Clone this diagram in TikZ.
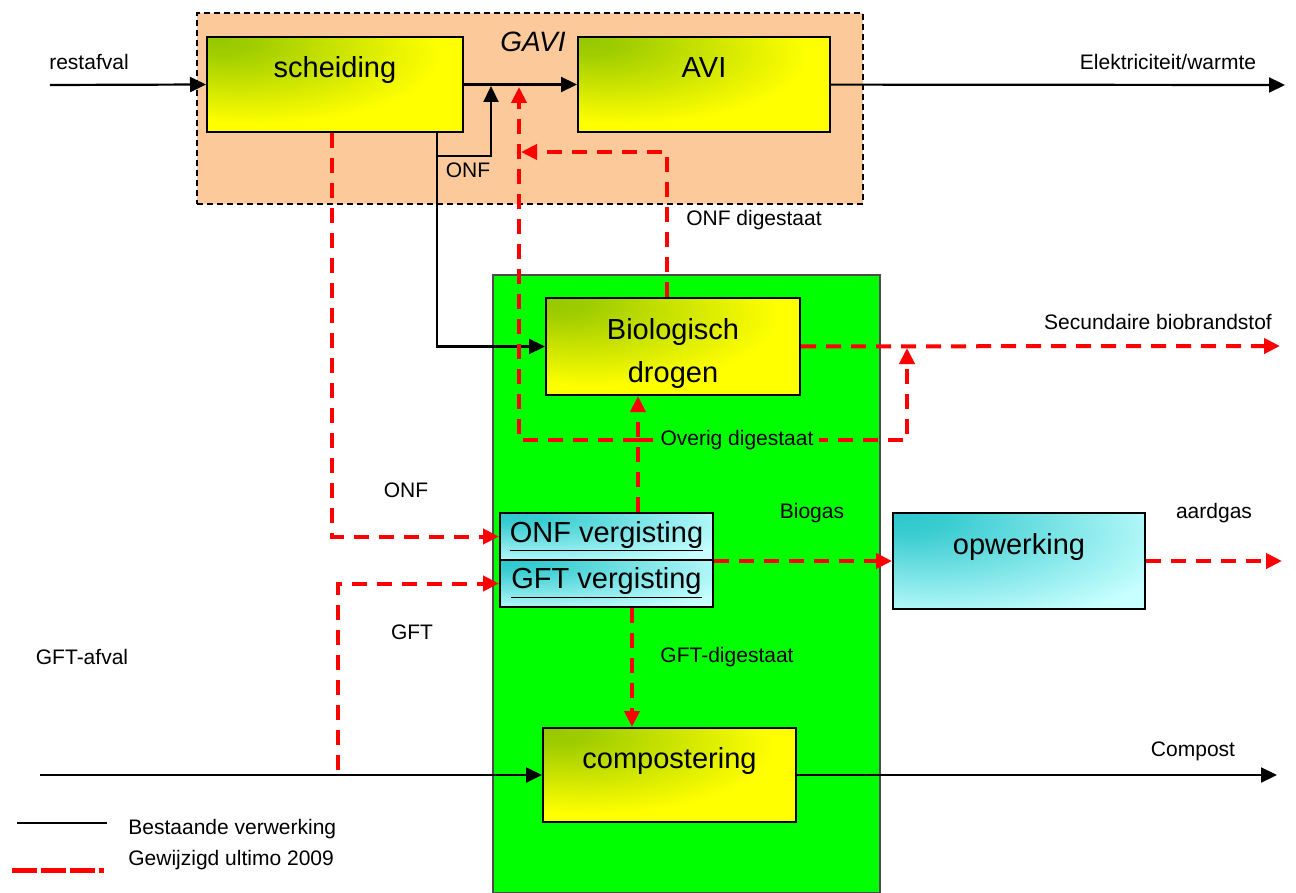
\documentclass[tikz,border=0pt]{standalone}
\usepackage{fontspec}
\setmainfont{Liberation Sans}
\usetikzlibrary{arrows.meta}
\definecolor{gavifill}{RGB}{252,202,154}
\definecolor{zonegreen}{RGB}{0,255,0}
\definecolor{boxgreen}{RGB}{150,200,0}
\definecolor{boxcyan}{RGB}{45,200,205}
\definecolor{palecyan}{RGB}{200,255,255}
\pgfdeclareradialshading{greencorner}{\pgfpoint{-24bp}{24bp}}{color(0bp)=(boxgreen);
  color(6bp)=(boxgreen!92!yellow); color(36bp)=(yellow); color(100bp)=(yellow)}
\pgfdeclareradialshading{cyancorner}{\pgfpoint{-24bp}{24bp}}{color(0bp)=(boxcyan);
  color(8bp)=(boxcyan!92!palecyan); color(46bp)=(palecyan); color(100bp)=(palecyan)}

\begin{document}
\begin{tikzpicture}[x=0.5pt,y=-0.5pt,
  procbox/.style={draw=black, line width=1pt, shading=greencorner, inner sep=0pt,
    font=\fontsize{14.5}{21.5}\selectfont},
  toptext/.style={text height=11pt, text depth=18pt},
  vergbox/.style={draw=black, line width=1pt, shading=cyancorner, inner sep=0pt,
    font=\fontsize{14.5}{17}\selectfont},
  lbl/.style={font=\fontsize{10.5}{12.6}\selectfont, inner sep=0pt},
  flow/.style={draw=black, line width=1.1pt, -{Triangle[length=8pt,width=7.5pt]}},
  newflow/.style={draw=red, line width=2pt, dash pattern=on 7.5pt off 5pt, -{Triangle[length=8pt,width=7.5pt]}}]

\useasboundingbox (0,0) rectangle (1296,893);

% zones
\node[draw=black, line width=0.7pt, dash pattern=on 3pt off 2pt, fill=gavifill,
  minimum width=333pt, minimum height=95.5pt, inner sep=0pt] (gavi) at (530,108.5) {};
\node[font=\fontsize{14}{17}\selectfont\itshape, inner sep=0pt] (gavilbl) at (533,42) {GAVI};
\node[draw=black!70, line width=0.8pt, fill=zonegreen,
  minimum width=193.5pt, minimum height=309pt, inner sep=0pt] (zone) at (686.5,584) {};

% boxes
\node[procbox, toptext, minimum width=128pt, minimum height=47.5pt] (scheiding) at (335,84.5) {scheiding};
\node[procbox, toptext, minimum width=126pt, minimum height=47.5pt] (avi) at (704,84.5) {AVI};
\node[procbox, align=center, text height=36pt, text depth=0pt,
  minimum width=127pt, minimum height=48.5pt] (bio) at (673,346.5) {Biologisch\\drogen};
\node[vergbox, minimum width=106.5pt, minimum height=23.5pt] (onfverg) at (606.5,536.5) {\underline{ONF vergisting}};
\node[vergbox, minimum width=106.5pt, minimum height=23.5pt] (gftverg) at (606.5,583.5) {\underline{GFT vergisting}};
\node[vergbox, toptext, minimum width=126pt, minimum height=48pt] (opw) at (1019,561) {opwerking};
\node[procbox, toptext, minimum width=126.5pt, minimum height=47pt] (compost) at (669.5,775) {compostering};

% free ends and bends
\coordinate (restin) at (50,85);
\coordinate (elekout) at (1285,85);
\coordinate (onfsplit) at (437,156);
\coordinate (onfjoin) at (491,86);
\coordinate (onfdown) at (332,132);
\coordinate (gftup) at (338,770);
\coordinate (gftin) at (40,775);
\coordinate (compostout) at (1277,775);
\coordinate (aardout) at (1282,561);
\coordinate (secout) at (1280,346);
\coordinate (overig) at (638,440);
\coordinate (gavijoin) at (519,87);
\coordinate (secjoin) at (907,348);
\coordinate (onfdig) at (667,152);
\coordinate (digx) at (632,0);

% bestaande verwerking
\draw[flow] (restin) -- (scheiding.west);
\draw[flow] (scheiding) -- (avi);
\draw[flow] (avi) -- (elekout);
\draw[flow] (scheiding.south -| onfsplit) -- (onfsplit) -| (onfjoin);
\draw[flow] (onfsplit) |- (bio.west);
\draw[flow] (gftin) -- (compost.west);
\draw[flow] (compost) -- (compostout);

% gewijzigd ultimo 2009
\draw[newflow] (scheiding.south -| onfdown) |- (onfverg.west);
\draw[newflow] (gftup) |- (gftverg.west);
\draw[newflow] (onfverg.south east) -- (onfverg.south east -| opw.west);
\draw[newflow] (opw) -- (aardout);
\draw[newflow] (gftverg.south -| digx) -- (compost.north -| digx);
\draw[newflow] (onfverg.north -| overig) -- (bio.south -| overig);
\draw[newflow] (overig) -| (gavijoin);
\draw[newflow] (overig) -| (secjoin);
\draw[newflow] (bio) -- (secout);
\draw[newflow] (bio.north -| onfdig) -- (onfdig) -- ([xshift=1pt]onfdig -| gavijoin);

% labels
\node[lbl] (lrest) at (89,62) {restafval};
\node[lbl] (lelek) at (1168,62) {Elektriciteit/warmte};
\node[lbl] (lonfa) at (468,170) {ONF};
\node[lbl] (lonfdig) at (754,220) {ONF digestaat};
\node[lbl] (lsec) at (1158,322) {Secundaire biobrandstof};
\node[lbl, fill=zonegreen, inner xsep=3pt] (loverig) at (737,440) {Overig digestaat};
\node[lbl] (lonfb) at (406,490) {ONF};
\node[lbl] (lbiogas) at (812,513) {Biogas};
\node[lbl] (laard) at (1214,513) {aardgas};
\node[lbl] (lgft) at (412,632) {GFT};
\node[lbl] (lgftafval) at (82,657) {GFT-afval};
\node[lbl] (lgftdig) at (727,657) {GFT-digestaat};
\node[lbl] (lcompost) at (1193,751) {Compost};

% legend
\coordinate (legoldA) at (17,823);
\coordinate (legoldB) at (107,823);
\coordinate (legnewA) at (12,870);
\coordinate (legnewB) at (104,870);
\draw[line width=1pt] (legoldA) -- (legoldB);
\draw[red, line width=2.5pt, dash pattern=on 12.5pt off 2pt] (legnewA) -- (legnewB);
\node[lbl, anchor=west] (lold) at (128,829) {Bestaande verwerking};
\node[lbl, anchor=west] (lnew) at (128,860) {Gewijzigd ultimo 2009};

\end{tikzpicture}
\end{document}
